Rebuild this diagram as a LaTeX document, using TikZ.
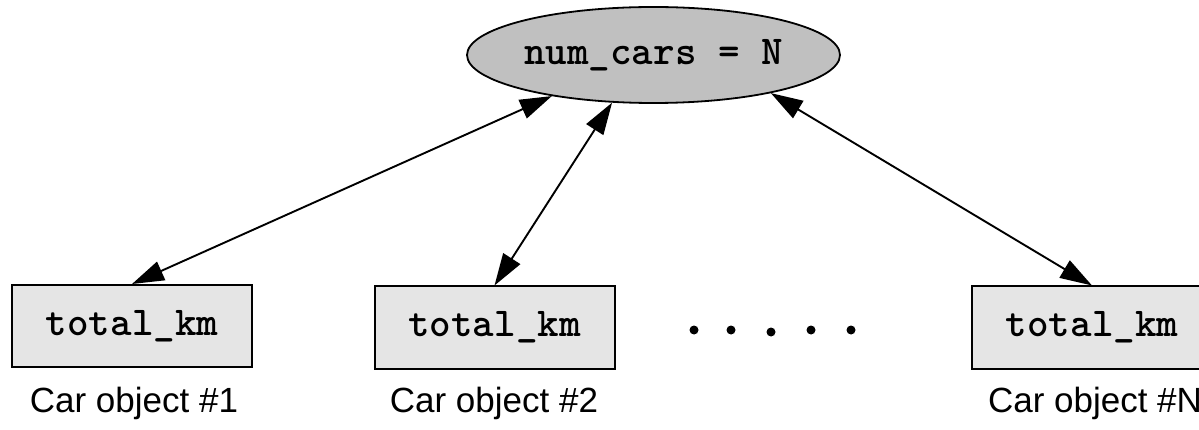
\documentclass[tikz,border=0pt]{standalone}
\usepackage{fontspec}
\setmainfont{Liberation Sans}
\usetikzlibrary{shapes.geometric,arrows.meta,calc}
\definecolor{ellgray}{RGB}{192,192,192}
\definecolor{boxgray}{RGB}{229,229,229}
\begin{document}
\begin{tikzpicture}[x=1pt,y=-1pt,
  codetext/.style={font=\ttfamily\bfseries\fontsize{41}{44}\selectfont},
  shared/.style={ellipse,draw=black,line width=1.8pt,fill=ellgray,
    minimum width=373pt,minimum height=96pt,inner sep=0pt,codetext},
  objbox/.style={rectangle,draw=black,line width=2pt,fill=boxgray,
    minimum width=240pt,minimum height=82pt,inner sep=0pt,codetext},
  caption/.style={anchor=base,font=\fontsize{35}{40}\selectfont,inner sep=0pt},
  link/.style={line width=1.9pt,{Triangle[length=32pt,width=20pt]}-{Triangle[length=32pt,width=20pt]}},
  dotmark/.style={fill=black}]
\useasboundingbox (0,0) rectangle (1199,430);
\node[shared] (ell) at (653.5,55) {num\_cars = N};
\node[objbox] (box1) at (132,326) {total\_km};
\node[objbox] (box2) at (494.5,327.5) {total\_km};
\node[objbox] (box3) at (1092,327.5) {total\_km};
\node[caption] (cap1) at (134,412) {Car object \#1};
\node[caption] (cap2) at (494,412) {Car object \#2};
\node[caption] (cap3) at (1095,412) {Car object \#N};
\draw[link] (box1.north) -- (ell.202);
\draw[link] (box2.north) -- (ell.229);
\draw[link] (box3.north) -- (ell.342);
\foreach \xx/\yy in {694/330,731/330,771/332,811/330,851/330}
  \fill[dotmark] (\xx,\yy) circle (4.5pt);
\end{tikzpicture}
\end{document}
